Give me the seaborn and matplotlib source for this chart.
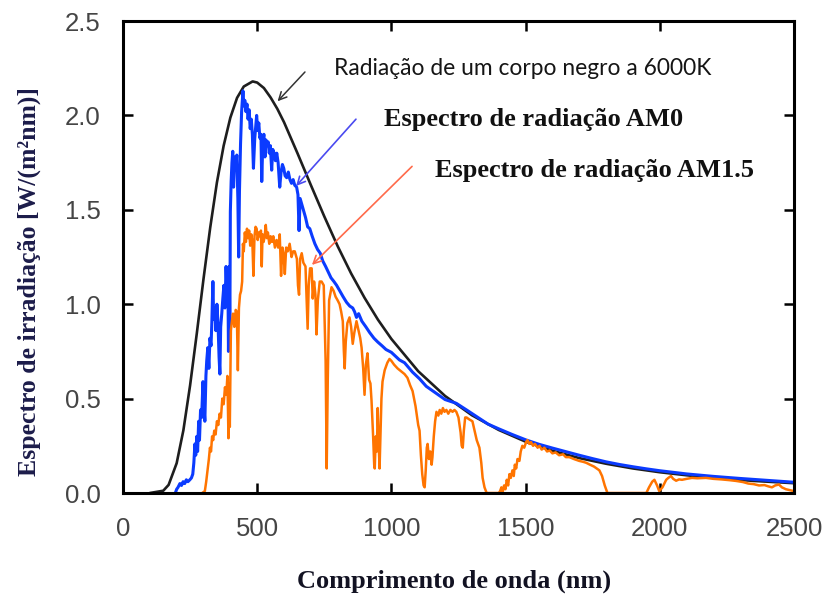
import matplotlib
matplotlib.use("Agg")
import matplotlib.pyplot as plt
import pandas as pd
import seaborn as sns

# ---------------- data ----------------
bb_wl = [100, 150, 170, 200, 225, 250, 275, 300, 325, 350, 375, 400, 425, 450, 483,
         500, 525, 550, 575, 600, 650, 700, 750, 800, 850, 900, 950, 1000, 1100, 1200,
         1300, 1400, 1500, 1600, 1700, 1800, 1900, 2000, 2100, 2200, 2350, 2500]
bb_val = [0.0, 0.012, 0.043, 0.158, 0.332, 0.570, 0.845, 1.134, 1.406, 1.645, 1.839,
          1.988, 2.093, 2.153, 2.180, 2.174, 2.145, 2.095, 2.035, 1.964, 1.800, 1.631,
          1.465, 1.307, 1.163, 1.034, 0.918, 0.816, 0.645, 0.514, 0.412, 0.334, 0.272,
          0.224, 0.185, 0.155, 0.130, 0.110, 0.094, 0.080, 0.064, 0.052]

am0_wl = [195, 200, 205, 212, 218, 224, 230, 236, 242, 249, 255, 260, 264, 268, 271,
          275, 278, 282, 285, 289, 293, 298, 302, 305, 309, 312, 316, 320, 324, 328,
          331, 335, 338, 342, 346, 350, 354, 358, 361, 364, 368, 372, 376, 380, 384,
          388, 391, 393, 396, 398, 400, 403, 406, 409, 412, 416, 420, 424, 428, 431,
          434, 438, 442, 447, 450, 454, 458, 462, 466, 470, 474, 478, 482, 486, 491,
          495, 498, 502, 506, 510, 514, 517, 521, 525, 529, 533, 537, 541, 545, 549,
          554, 558, 563, 568, 573, 578, 584, 589, 594, 599, 604, 610, 616, 622, 628,
          634, 640, 647, 652, 656, 660, 666, 672, 680, 688, 696, 705, 715, 725, 735,
          744, 755, 765, 775, 786, 796, 808, 820, 833, 845, 856, 863, 870, 878, 890,
          905, 919, 935, 949, 965, 980, 1000, 1030, 1049, 1079, 1105, 1130, 1160, 1200,
          1242, 1280, 1328, 1360, 1400, 1450, 1500, 1550, 1600, 1650, 1700, 1750, 1800,
          1850, 1900, 1950, 2000, 2100, 2200, 2300, 2400, 2500]
am0_val = [0.0, 0.02, 0.03, 0.05, 0.04, 0.06, 0.05, 0.07, 0.06, 0.07, 0.08, 0.10, 0.16,
           0.26, 0.20, 0.30, 0.22, 0.38, 0.28, 0.44, 0.40, 0.59, 0.45, 0.38, 0.62, 0.70,
           0.77, 0.66, 0.82, 0.78, 0.90, 1.12, 0.92, 0.98, 0.86, 1.00, 0.90, 0.72, 0.63,
           0.88, 0.95, 1.03, 1.10, 0.98, 1.20, 1.05, 1.12, 0.75, 1.20, 0.80, 1.49, 1.65,
           1.75, 1.81, 1.62, 1.78, 1.72, 1.79, 1.56, 1.25, 1.60, 1.85, 2.02, 2.13, 2.05,
           2.08, 2.02, 2.06, 1.98, 2.03, 1.93, 1.98, 1.90, 1.72, 1.88, 1.95, 2.00, 1.92,
           1.96, 1.88, 1.90, 1.65, 1.86, 1.90, 1.78, 1.87, 1.84, 1.86, 1.80, 1.84, 1.71,
           1.82, 1.80, 1.76, 1.80, 1.75, 1.62, 1.70, 1.74, 1.72, 1.68, 1.67, 1.70, 1.66,
           1.64, 1.66, 1.63, 1.62, 1.58, 1.39, 1.56, 1.53, 1.50, 1.46, 1.41, 1.40, 1.36,
           1.32, 1.29, 1.27, 1.23, 1.20, 1.17, 1.14, 1.12, 1.10, 1.07, 1.04, 1.01, 0.99,
           0.98, 0.96, 0.93, 0.95, 0.91, 0.88, 0.85, 0.82, 0.80, 0.78, 0.76, 0.745, 0.705,
           0.69, 0.64, 0.605, 0.565, 0.535, 0.495, 0.475, 0.44, 0.395, 0.365, 0.34, 0.31,
           0.282, 0.258, 0.238, 0.219, 0.200, 0.182, 0.165, 0.151, 0.139, 0.128, 0.118,
           0.101, 0.088, 0.077, 0.067, 0.057]

am15_wl = [295, 305, 310, 315, 320, 324, 328, 332, 336, 340, 345, 350, 355, 360, 365,
           370, 375, 380, 385, 389, 393, 396, 398, 402, 405, 410, 415, 420, 424, 428,
           432, 436, 440, 444, 447, 450, 454, 458, 462, 466, 470, 474, 478, 482, 486,
           490, 494, 498, 502, 506, 510, 514, 517, 520, 524, 528, 532, 536, 540, 545,
           550, 555, 560, 566, 572, 578, 584, 589, 594, 598, 603, 608, 614, 621, 628,
           634, 640, 648, 652, 656, 660, 666, 672, 680, 688, 692, 697, 703, 707, 712,
           717, 721, 726, 733, 740, 748, 755, 759, 763, 768, 777, 785, 792, 800, 807,
           813, 819, 823, 826, 830, 836, 844, 850, 856, 862, 870, 878, 884, 889, 895,
           900, 905, 911, 917, 922, 926, 932, 936, 938, 942, 946, 949, 953, 956, 960,
           963, 967, 975, 985, 993, 1000, 1010, 1023, 1036, 1049, 1060, 1070, 1079, 1090,
           1100, 1105, 1110, 1115, 1120, 1124, 1128, 1132, 1135, 1140, 1145, 1150, 1153,
           1158, 1163, 1168, 1175, 1180, 1186, 1192, 1198, 1205, 1212, 1220, 1228, 1235,
           1242, 1250, 1258, 1262, 1266, 1270, 1275, 1280, 1290, 1302, 1310, 1318, 1328,
           1335, 1340, 1347, 1355, 1400, 1405, 1410, 1414, 1420, 1425, 1430, 1435, 1440,
           1445, 1451, 1456, 1460, 1465, 1470, 1477, 1482, 1488, 1495, 1502, 1507, 1514,
           1520, 1528, 1535, 1545, 1552, 1560, 1570, 1580, 1590, 1600, 1612, 1625, 1640,
           1650, 1663, 1680, 1700, 1715, 1726, 1740, 1755, 1765, 1775, 1785, 1795, 1805,
           1950, 1960, 1972, 1980, 1990, 1998, 2010, 2024, 2032, 2042, 2050, 2061, 2072,
           2083, 2100, 2120, 2140, 2172, 2200, 2230, 2260, 2284, 2310, 2330, 2350, 2370,
           2390, 2405, 2418, 2430, 2444, 2455, 2470, 2485, 2500]
am15_val = [0.0, 0.01, 0.06, 0.12, 0.18, 0.24, 0.22, 0.30, 0.28, 0.33, 0.31, 0.38, 0.36,
            0.42, 0.40, 0.50, 0.47, 0.56, 0.52, 0.62, 0.29, 0.58, 0.35, 0.86, 0.90, 0.95,
            0.88, 0.97, 0.96, 0.65, 0.98, 1.05, 1.07, 1.12, 1.32, 1.28, 1.38, 1.33, 1.40,
            1.35, 1.39, 1.31, 1.37, 1.33, 1.15, 1.36, 1.41, 1.40, 1.34, 1.38, 1.36, 1.39,
            1.20, 1.37, 1.33, 1.36, 1.42, 1.35, 1.38, 1.32, 1.36, 1.33, 1.36, 1.30, 1.34,
            1.30, 1.37, 1.15, 1.30, 1.27, 1.16, 1.30, 1.28, 1.32, 1.25, 1.28, 1.28, 1.24,
            1.10, 1.05, 1.24, 1.27, 1.22, 1.20, 0.87, 1.10, 1.19, 1.19, 1.03, 1.12, 1.05,
            0.84, 1.02, 1.12, 1.12, 1.10, 0.70, 0.13, 0.60, 1.02, 1.09, 1.07, 1.04, 1.02,
            1.00, 0.96, 0.91, 0.75, 0.66, 0.80, 0.90, 0.93, 0.88, 0.79, 0.85, 0.91, 0.86,
            0.82, 0.77, 0.66, 0.52, 0.68, 0.74, 0.60, 0.58, 0.49, 0.30, 0.15, 0.13, 0.30,
            0.22, 0.45, 0.25, 0.13, 0.35, 0.50, 0.59, 0.65, 0.69, 0.71, 0.70, 0.68, 0.66,
            0.645, 0.63, 0.61, 0.57, 0.54, 0.46, 0.36, 0.33, 0.20, 0.10, 0.04, 0.03, 0.12,
            0.24, 0.26, 0.18, 0.22, 0.15, 0.19, 0.30, 0.38, 0.43, 0.41, 0.44, 0.42, 0.45,
            0.43, 0.44, 0.42, 0.44, 0.43, 0.44, 0.43, 0.40, 0.32, 0.25, 0.24, 0.33, 0.40,
            0.40, 0.39, 0.38, 0.33, 0.28, 0.24, 0.16, 0.08, 0.03, 0.0, 0.0, 0.01, 0.03,
            0.0, 0.04, 0.02, 0.07, 0.04, 0.10, 0.08, 0.12, 0.09, 0.15, 0.13, 0.18, 0.17,
            0.22, 0.25, 0.24, 0.27, 0.28, 0.26, 0.27, 0.25, 0.26, 0.24, 0.25, 0.23, 0.24,
            0.22, 0.225, 0.21, 0.215, 0.20, 0.205, 0.19, 0.19, 0.18, 0.17, 0.165, 0.16,
            0.15, 0.14, 0.13, 0.12, 0.09, 0.04, 0.0, 0.0, 0.03, 0.06, 0.07, 0.04, 0.01,
            0.03, 0.07, 0.08, 0.09, 0.075, 0.065, 0.072, 0.07, 0.075, 0.08, 0.078, 0.08,
            0.075, 0.072, 0.068, 0.064, 0.058, 0.05, 0.047, 0.04, 0.042, 0.035, 0.03,
            0.04, 0.045, 0.03, 0.02, 0.015, 0.01]

x_ticks = [0, 500, 1000, 1500, 2000, 2500]
y_ticks = [0.0, 0.5, 1.0, 1.5, 2.0, 2.5]
y_tick_labels = ["0.0", "0.5", "1.0", "1.5", "2.0", "2.5"]

# ---------------- style ----------------
sns.set_style("ticks")
plt.rcParams["font.family"] = ["Liberation Sans", "DejaVu Sans"]

fig = plt.figure(figsize=(8.26, 5.97), dpi=100)
ax = fig.add_axes([0.1489, 0.1742, 0.8123, 0.7906])

df_bb = pd.DataFrame({"wl": bb_wl, "val": bb_val})
df_am0 = pd.DataFrame({"wl": am0_wl, "val": am0_val})
df_am15 = pd.DataFrame({"wl": am15_wl, "val": am15_val})

sns.lineplot(data=df_bb, x="wl", y="val", color="#1e1e1e", linewidth=1.9,
             estimator=None, sort=False, ax=ax)
sns.lineplot(data=df_am0, x="wl", y="val", color="#0b3bff", linewidth=2.2,
             estimator=None, sort=False, ax=ax)
sns.lineplot(data=df_am15, x="wl", y="val", color="#ff7400", linewidth=1.8,
             estimator=None, sort=False, ax=ax)

ax.set_xlim(0, 2500)
ax.set_ylim(0, 2.5)
ax.set_xticks(x_ticks)
ax.set_xticklabels([str(t) for t in x_ticks])
ax.set_yticks(y_ticks)
ax.set_yticklabels(y_tick_labels)

for sp in ax.spines.values():
    sp.set_visible(True)
    sp.set_linewidth(2.2)
    sp.set_color("#000000")

ax.tick_params(axis="both", which="major", direction="in", length=7, width=1.8,
               color="#000000", labelsize=18.5, labelcolor="#454545",
               top=True, right=True)
ax.tick_params(axis="x", pad=17)
ax.tick_params(axis="y", pad=16)

serif = ["Liberation Serif", "DejaVu Serif"]
ax.set_xlabel("Comprimento de onda (nm)", fontfamily=serif, fontweight="bold",
              fontsize=19, color="#121222")
ax.set_ylabel("Espectro de irradiação [W/(m²nm)]", fontfamily=serif,
              fontweight="bold", fontsize=18.5, color="#1c1c4a")
ax.xaxis.set_label_coords(0.494, -0.186)
ax.xaxis.label.set_va("center")
ax.yaxis.set_label_coords(-0.139, 0.449)
ax.yaxis.label.set_va("center")

# ---------------- annotations ----------------
ax.annotate("", xy=(576, 2.075), xytext=(678, 2.23),
            arrowprops=dict(arrowstyle="->", color="#333333", lw=1.1,
                            mutation_scale=14, shrinkA=0, shrinkB=0))
ax.text(786, 2.25, "Radiação de um corpo negro a 6000K", fontfamily=["Lato", "DejaVu Sans"],
        fontsize=16.4, color="#151515", ha="left", va="center")

ax.annotate("", xy=(645, 1.626), xytext=(868, 1.98),
            arrowprops=dict(arrowstyle="->", color="#4a4af0", lw=1.2,
                            mutation_scale=14, shrinkA=0, shrinkB=0))
ax.text(972, 1.98, "Espectro de radiação AM0", fontfamily=serif, fontweight="bold",
        fontsize=19, color="#111111", ha="left", va="center")

ax.annotate("", xy=(704, 1.208), xytext=(1077, 1.73),
            arrowprops=dict(arrowstyle="->", color="#ff6a4a", lw=1.2,
                            mutation_scale=14, shrinkA=0, shrinkB=0))
ax.text(1162, 1.71, "Espectro de radiação AM1.5", fontfamily=serif, fontweight="bold",
        fontsize=19, color="#111111", ha="left", va="center")

fig.savefig("out.png", dpi=100)
